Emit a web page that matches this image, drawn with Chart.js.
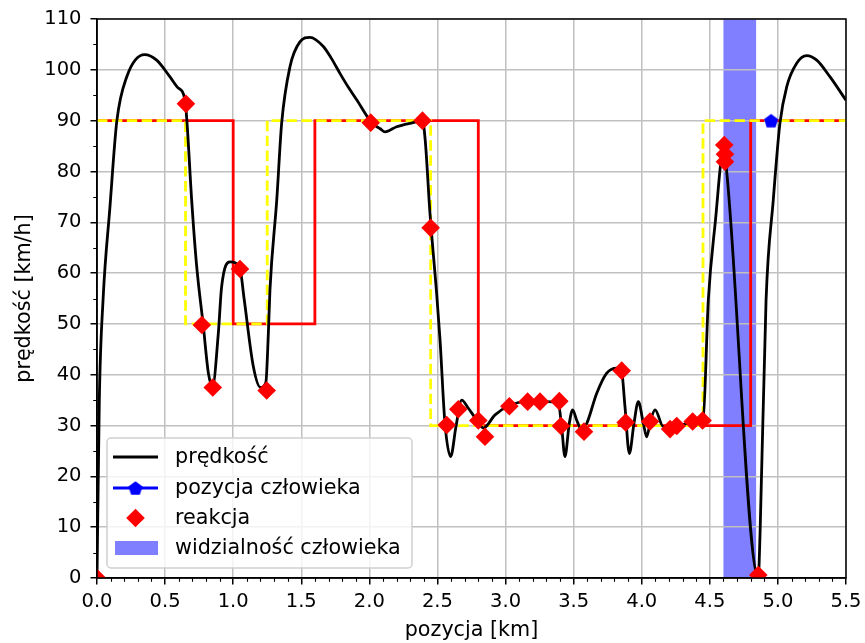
<!DOCTYPE html>
<html>
<head>
<meta charset="utf-8">
<script src="https://cdn.jsdelivr.net/npm/chart.js@4.4.1/dist/chart.umd.min.js"></script>
<style>
  html, body { margin: 0; padding: 0; background: #fff; }
</style>
</head>
<body>
<canvas id="chart" width="865" height="643"></canvas>
<script>
// prędkość (black curve)
const speedX = [0, 0.017, 0.045, 0.095, 0.145, 0.218, 0.35, 0.438, 0.536, 0.59, 0.646, 0.66, 0.695, 0.732, 0.78, 0.818, 0.849,
  0.891, 0.915, 0.977, 1.05, 1.08, 1.148, 1.2, 1.24, 1.258, 1.27, 1.32, 1.356, 1.417, 1.49, 1.564, 1.662, 1.72, 1.784, 1.84,
  1.907, 2.017, 2.08, 2.115, 2.2, 2.32, 2.39, 2.41, 2.445, 2.494, 2.519, 2.555, 2.597, 2.636, 2.678, 2.727, 2.788,
  2.837, 2.923, 3.033, 3.155, 3.302, 3.387, 3.412, 3.436, 3.468, 3.493, 3.522, 3.559, 3.596, 3.669, 3.743, 3.816,
  3.852, 3.877, 3.909, 3.943, 3.975, 4.012, 4.037, 4.066, 4.098, 4.158, 4.26, 4.37, 4.45, 4.489, 4.54, 4.6, 4.62,
  4.856, 4.869, 4.913, 4.966, 5.015, 5.065, 5.138, 5.211, 5.285, 5.383, 5.5];
const speedY = [0, 35, 55, 73, 89.8, 98.6, 103, 101.9, 98.6, 96.6, 94.1, 90, 74.4, 61.3, 49.8, 40.3, 37.8,
  48.2, 57.3, 62.2, 60.8, 55, 41.6, 37.5, 38.5, 48, 56.7, 74.4, 89.5, 100.6, 105.5, 106.4, 104.6, 102.3, 99.3, 96.8,
  94.1, 89.6, 88.4, 87.8, 88.8, 89.6, 90, 86.2, 71.8, 56, 46.8, 30.5, 23.9, 29.8, 35, 33.4, 31.1,
  29.5, 32.1, 34, 34.7, 34.7, 34.4, 29.8, 23.9, 30.4, 33.1, 31.1, 29.1, 30.4, 36.3, 40.3, 41.3,
  40.7, 33.7, 24.5, 30.4, 34.7, 30.4, 27.8, 31.1, 33.1, 29.8, 30, 30.5, 31, 54.7, 70, 84, 81,
  0.3, 8.8, 54.7, 74.4, 89.5, 96.7, 101.3, 102.8, 101.9, 98.6, 94];

// speed limit (red steps) and planned speed (yellow dashed steps)
const limitX = [0, 1.0, 1.6, 2.8, 4.8, 5.5];
const limitY = [90, 50, 90, 30, 90, 90];
const planX = [0, 0.65, 1.25, 2.45, 4.45, 5.5];
const planY = [90, 50, 90, 30, 90, 90];

// reakcja (red diamonds)
const reactX = [0, 0.653, 0.77, 0.85, 1.05, 1.246, 2.01, 2.39, 2.45, 2.568, 2.653, 2.80, 2.849, 3.028, 3.162,
  3.253, 3.395, 3.407, 3.576, 3.853, 3.882, 4.061, 4.208, 4.257, 4.374, 4.447, 4.606, 4.611, 4.611, 4.856];
const reactY = [0, 93.3, 49.8, 37.5, 60.8, 36.9, 89.6, 90, 68.9, 30.1, 33.2, 31, 27.8, 33.8, 34.7,
  34.7, 34.8, 29.9, 28.8, 40.8, 30.6, 30.8, 29.3, 29.9, 30.8, 31, 85.2, 83.4, 81.9, 0.6];

// pozycja człowieka and widzialność człowieka
const humanX = [4.95];
const humanY = [90];
const visibleFrom = 4.6;
const visibleTo = 4.84;

const xTicks = [0, 0.5, 1.0, 1.5, 2.0, 2.5, 3.0, 3.5, 4.0, 4.5, 5.0, 5.5];
const yTicks = [0, 10, 20, 30, 40, 50, 60, 70, 80, 90, 100, 110];

const legendLabels = ['prędkość', 'pozycja człowieka', 'reakcja', 'widzialność człowieka'];

const FONT = 'DejaVu Sans';
const TICK_SIZE = 19.5;
const LABEL_SIZE = 20.7;
const toPoints = (xs, ys) => xs.map((x, i) => ({ x: x, y: ys[i] }));

// pentagon marker
const pentagon = document.createElement('canvas');
pentagon.width = 18;
pentagon.height = 18;
(function () {
  const c = pentagon.getContext('2d');
  const r = 7.4;
  c.beginPath();
  for (let k = 0; k < 5; k++) {
    const a = -Math.PI / 2 + k * 2 * Math.PI / 5;
    const px = 9 + r * Math.cos(a), py = 9.7 + r * Math.sin(a);
    if (k === 0) c.moveTo(px, py); else c.lineTo(px, py);
  }
  c.closePath();
  c.fillStyle = '#0000ff';
  c.fill();
})();

const bandPlugin = {
  id: 'band',
  beforeDraw(chart) {
    const { ctx, chartArea, scales } = chart;
    const x0 = scales.x.getPixelForValue(visibleFrom);
    const x1 = scales.x.getPixelForValue(visibleTo);
    ctx.save();
    ctx.fillStyle = 'rgba(0,0,255,0.5)';
    ctx.fillRect(x0, chartArea.top, x1 - x0, chartArea.bottom - chartArea.top);
    ctx.restore();
  }
};

const framePlugin = {
  id: 'frame',
  afterDatasetsDraw(chart) {
    const { ctx, chartArea: a, scales } = chart;
    ctx.save();
    // minor ticks
    ctx.strokeStyle = '#000';
    ctx.lineWidth = 1.1;
    ctx.beginPath();
    for (let i = 1; i < 55; i++) {
      if (i % 5 === 0) continue;
      const px = Math.round(scales.x.getPixelForValue(i / 10)) + 0.5;
      ctx.moveTo(px, a.bottom);
      ctx.lineTo(px, a.bottom + 3.8);
    }
    for (let v = 5; v < 110; v += 10) {
      const py = Math.round(scales.y.getPixelForValue(v)) + 0.5;
      ctx.moveTo(a.left, py);
      ctx.lineTo(a.left - 3.8, py);
    }
    ctx.stroke();
    // spines
    ctx.lineWidth = 1.5;
    ctx.strokeRect(a.left, a.top, a.right - a.left, a.bottom - a.top);
    ctx.restore();
  },
  afterDraw(chart) {
    const { ctx, chartArea: a } = chart;
    const bx = a.left + 10, by = a.bottom - 140, bw = 305, bh = 130;
    ctx.save();
    ctx.beginPath();
    ctx.roundRect(bx, by, bw, bh, 4);
    ctx.fillStyle = 'rgba(255,255,255,0.8)';
    ctx.fill();
    ctx.strokeStyle = '#d0d0d0';
    ctx.lineWidth = 1.5;
    ctx.stroke();

    const hx0 = bx + 6, hx1 = bx + 51, hc = (hx0 + hx1) / 2;
    const rows = [by + 19, by + 50, by + 80, by + 110];
    ctx.font = LABEL_SIZE + 'px "' + FONT + '"';
    ctx.textBaseline = 'middle';
    ctx.fillStyle = '#000';
    legendLabels.forEach((t, i) => ctx.fillText(t, bx + 68, rows[i] + 1));

    ctx.lineWidth = 2.8;
    ctx.strokeStyle = '#000';
    ctx.beginPath(); ctx.moveTo(hx0, rows[0]); ctx.lineTo(hx1, rows[0]); ctx.stroke();
    ctx.strokeStyle = '#0000ff';
    ctx.beginPath(); ctx.moveTo(hx0, rows[1]); ctx.lineTo(hx1, rows[1]); ctx.stroke();
    ctx.drawImage(pentagon, hc - 9, rows[1] - 9);
    ctx.fillStyle = '#ff0000';
    ctx.beginPath();
    ctx.moveTo(hc - 9.3, rows[2]); ctx.lineTo(hc, rows[2] - 9.3);
    ctx.lineTo(hc + 9.3, rows[2]); ctx.lineTo(hc, rows[2] + 9.3);
    ctx.closePath(); ctx.fill();
    ctx.fillStyle = 'rgba(0,0,255,0.5)';
    ctx.fillRect(hx0 + 2, rows[3] - 7, 43, 14);
    ctx.restore();
  }
};

new Chart(document.getElementById('chart'), {
  type: 'line',
  data: {
    datasets: [
      {
        label: 'reakcja',
        data: toPoints(reactX, reactY),
        showLine: false,
        pointStyle: 'rectRot',
        pointRadius: 9.3,
        pointBorderWidth: 0,
        pointBackgroundColor: '#ff0000',
        order: 0,
        clip: 0
      },
      {
        label: 'pozycja człowieka',
        data: toPoints(humanX, humanY),
        showLine: false,
        pointStyle: pentagon,
        pointRadius: 8,
        order: 1,
        clip: 0
      },
      {
        label: 'prędkość',
        data: toPoints(speedX, speedY),
        borderColor: '#000000',
        borderWidth: 2.8,
        pointRadius: 0,
        cubicInterpolationMode: 'monotone',
        order: 2,
        clip: 0
      },
      {
        label: 'plan',
        data: toPoints(planX, planY),
        borderColor: '#ffff00',
        borderWidth: 2.8,
        borderDash: [10.4, 4.5],
        stepped: true,
        pointRadius: 0,
        order: 3,
        clip: 0
      },
      {
        label: 'limit',
        data: toPoints(limitX, limitY),
        borderColor: '#ff0000',
        borderWidth: 2.8,
        stepped: true,
        pointRadius: 0,
        order: 4,
        clip: 0
      }
    ]
  },
  options: {
    responsive: false,
    animation: false,
    events: [],
    layout: { padding: { top: 19, right: 19, left: 0, bottom: 0 } },
    plugins: { legend: { display: false }, tooltip: { enabled: false } },
    scales: {
      x: {
        type: 'linear',
        min: 0,
        max: 5.5,
        afterFit: (s) => { s.height = 65; s.paddingLeft = 0; s.paddingRight = 0; },
        afterBuildTicks: (s) => { s.ticks = xTicks.map(v => ({ value: v })); },
        ticks: {
          color: '#000',
          font: { family: FONT, size: TICK_SIZE },
          padding: 6,
          maxRotation: 0,
          autoSkip: false,
          callback: (v) => Number(v).toFixed(1)
        },
        grid: { color: '#c0c0c0', lineWidth: 1.5, tickColor: '#000', tickWidth: 1.5, tickLength: 6.5 },
        border: { color: '#000', width: 1.5 },
        title: { display: true, text: 'pozycja [km]', color: '#000', font: { family: FONT, size: LABEL_SIZE }, padding: { top: 0, bottom: 0 } }
      },
      y: {
        type: 'linear',
        min: 0,
        max: 110,
        afterFit: (s) => { s.width = 97; s.paddingTop = 0; s.paddingBottom = 0; },
        afterBuildTicks: (s) => { s.ticks = yTicks.map(v => ({ value: v })); },
        ticks: {
          color: '#000',
          font: { family: FONT, size: TICK_SIZE },
          padding: 9
        },
        grid: { color: '#c0c0c0', lineWidth: 1.5, tickColor: '#000', tickWidth: 1.5, tickLength: 6.5 },
        border: { color: '#000', width: 1.5 },
        title: { display: true, text: 'prędkość [km/h]', color: '#000', font: { family: FONT, size: LABEL_SIZE }, padding: { top: 12, bottom: 0 } }
      }
    }
  },
  plugins: [bandPlugin, framePlugin]
});
</script>
</body>
</html>
